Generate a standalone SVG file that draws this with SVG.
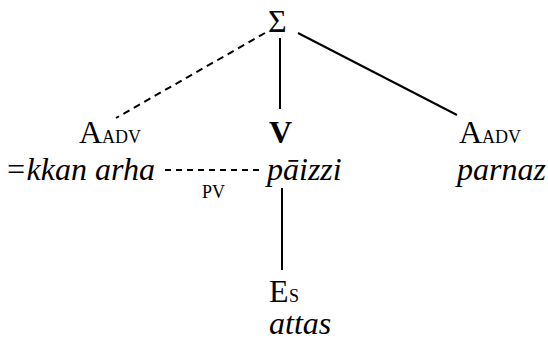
<svg xmlns="http://www.w3.org/2000/svg" width="548" height="341" viewBox="0 0 548 341">
<style>
text{font-family:'Liberation Serif','DejaVu Serif',serif}
.m{font-size:32px}
.s{font-size:18px}
.i{font-style:italic}
.b{font-weight:bold}
.ln{stroke:#000;stroke-width:2;fill:none}
.d{stroke-dasharray:7 5}
</style>
<rect width="548" height="341" fill="#fff"/>
<g id="connectors">
<line class="ln d" x1="265" y1="33" x2="116" y2="118"/>
<line class="ln" x1="280" y1="38" x2="280" y2="109"/>
<line class="ln" x1="298" y1="33" x2="457" y2="115"/>
<line class="ln" x1="165" y1="170" x2="263" y2="170" stroke-dasharray="6 5"/>
<line class="ln" x1="282" y1="188" x2="282" y2="270"/>
</g>
<g id="sigma"><text class="m" x="268" y="32">Σ</text></g>
<g id="a-adv-left">
<text class="m" x="79" y="143">A</text><text class="s" x="102" y="143">ADV</text>
<text class="m i" x="5" y="180">=kkan arha</text>
</g>
<g id="v">
<text class="m b" x="269" y="143">V</text>
<text class="m i" x="267" y="180">pāizzi</text>
</g>
<g id="a-adv-right">
<text class="m" x="459" y="143">A</text><text class="s" x="482" y="143">ADV</text>
<text class="m i" x="457" y="180">parnaz</text>
</g>
<g id="pv"><text class="s" x="202" y="198">PV</text></g>
<g id="e-s">
<text class="m" x="269" y="302">E</text><text class="s" x="289" y="302">S</text>
<text class="m i" x="269" y="334">attas</text>
</g>
</svg>
